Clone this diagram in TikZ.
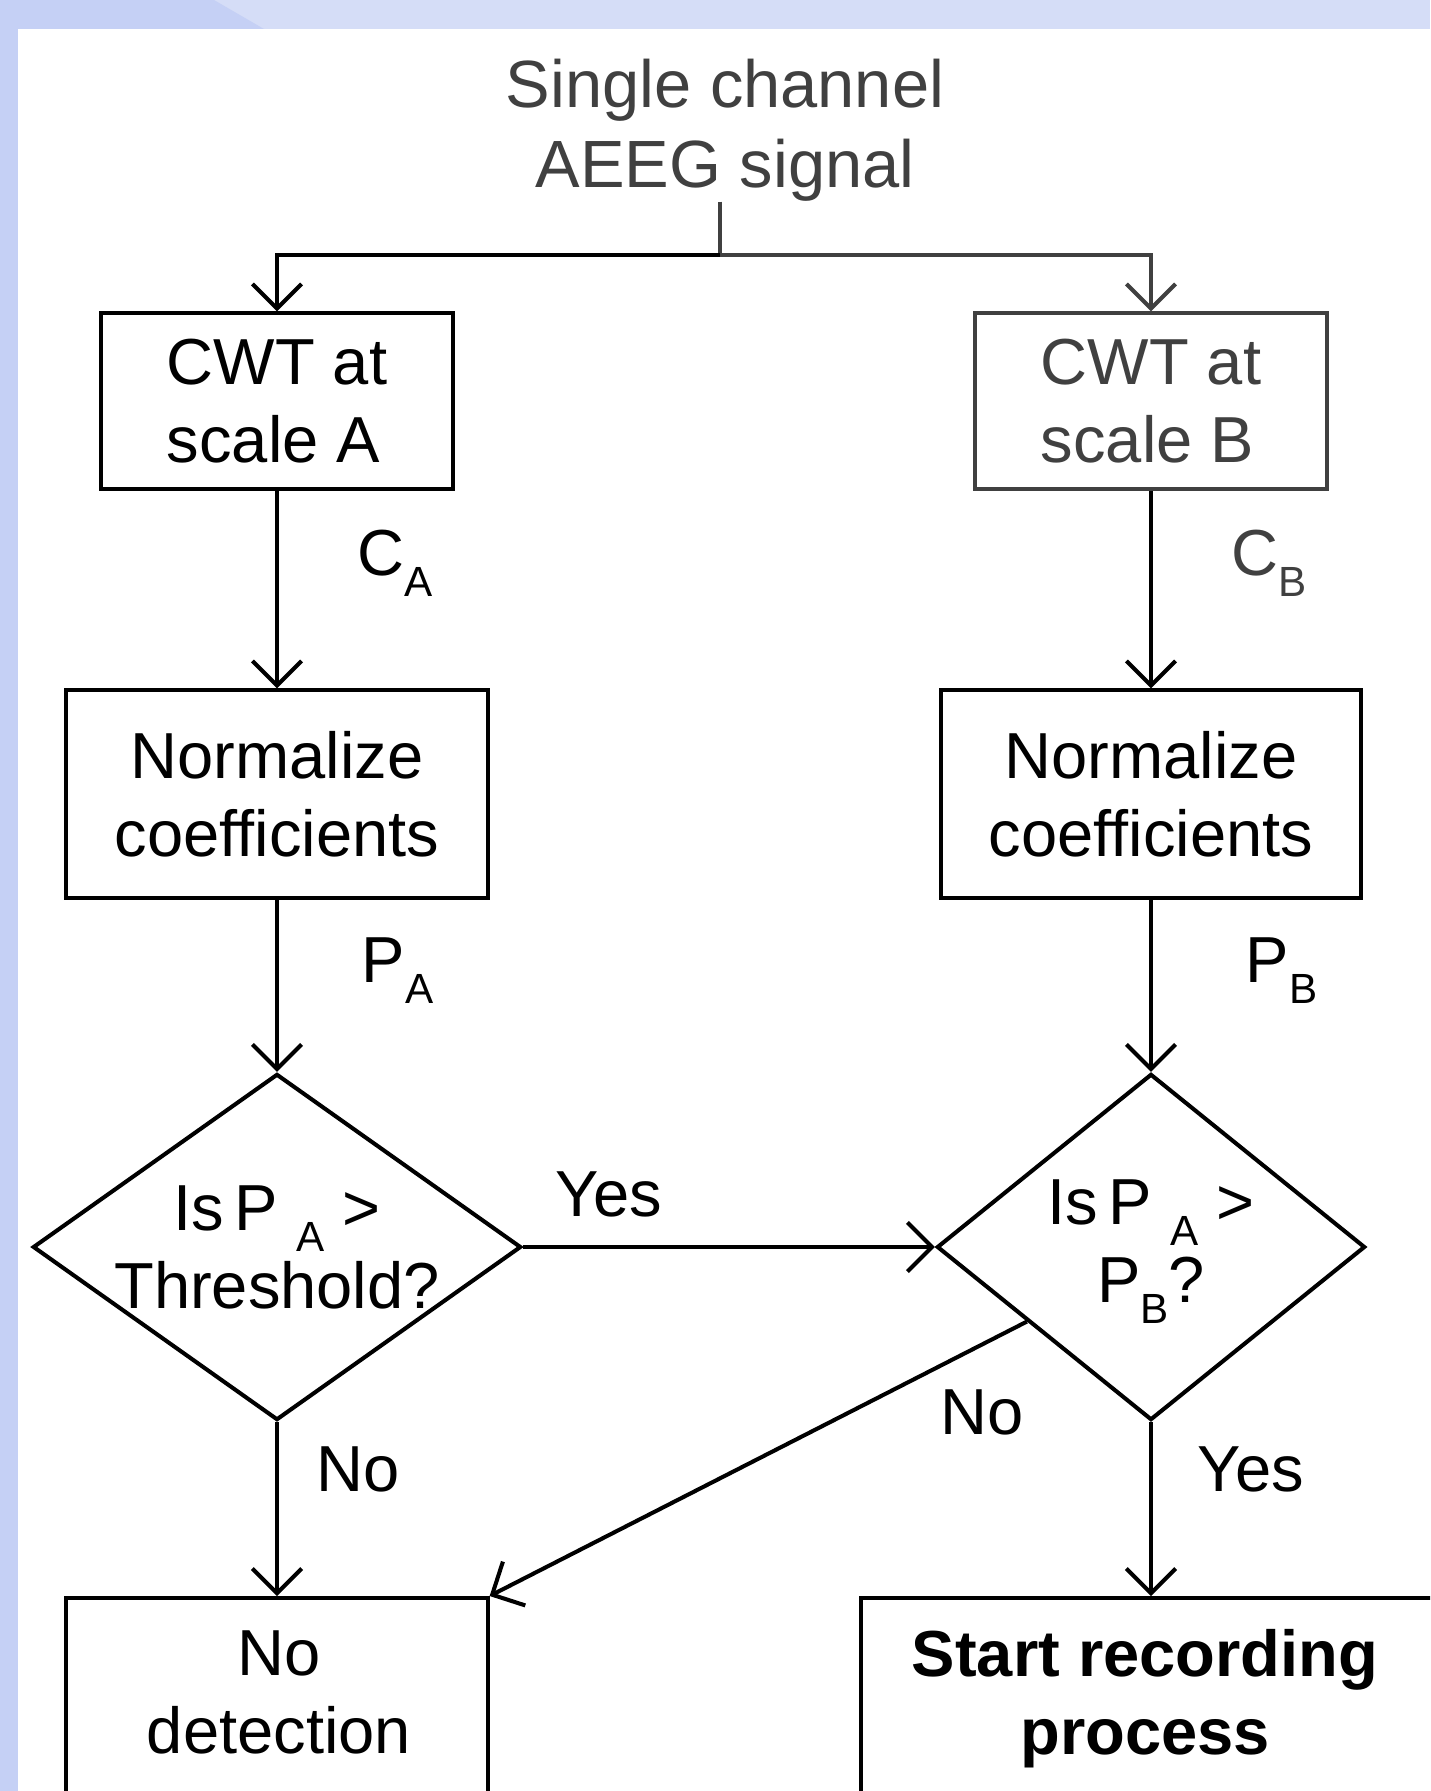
\documentclass[tikz,border=0pt]{standalone}
\usepackage{fontspec}
\setmainfont{Liberation Sans}
\usepackage{tikz}
\usetikzlibrary{arrows.meta}
\usetikzlibrary{shapes.geometric}
\usepackage{color}

\definecolor{slideblue}{RGB}{213,221,247}
\definecolor{slidebluedark}{RGB}{197,208,245}
\definecolor{inkgray}{HTML}{404040}

\newcommand{\subtxt}[1]{\raisebox{-6pt}{\fontsize{12}{12}\selectfont #1}}

\tikzset{
  box/.style={draw, line width=1.15pt, inner sep=0pt, align=center, font=\fontsize{18.5}{22.2}\selectfont},
  decision/.style={draw, diamond, line width=1.15pt, inner sep=0pt},
  flow/.style={line width=1.15pt, -{Straight Barb[length=7pt, width=14pt]}},
  txt/.style={align=center, inner sep=0pt, font=\fontsize{18.5}{22.2}\selectfont},
  lbl/.style={inner sep=0pt, font=\fontsize{18.5}{22.2}\selectfont},
  boldtxt/.style={font=\fontsize{18.5}{22.2}\selectfont\bfseries},
}

\begin{document}
\begin{tikzpicture}[x=0.01cm, y=-0.01cm]

\useasboundingbox (0,0) rectangle (1430,1791);
\clip (0,0) rectangle (1430,1791);

% slide background
\fill[slideblue] (0,0) rectangle (1430,1791);
\fill[slidebluedark] (0,0) -- (214,0) -- (264,29) -- (18,29) -- (18,1791) -- (0,1791) -- cycle;
\fill[white] (18,29) rectangle (1430,1791);

% input signal
\node[txt, font=\fontsize{19}{22.6}\selectfont, text=inkgray] (signal) at (725,130) {Single channel\\AEEG signal};
\coordinate (split) at (720,255);

% scale A column
\node[box, align=left, minimum width=3.52cm, minimum height=1.75cm] (cwtA) at (277,401) {CWT at\\scale A};
\node[box, minimum width=4.21cm, minimum height=2.07cm] (normA) at (277,794) {Normalize\\coefficients};
\node[decision, minimum width=4.88cm, minimum height=3.46cm] (decA) at (277,1247) {};
\node[txt] (qA) at (277,1247) {Is\,P \subtxt{A} >\\Threshold?};

% scale B column
\node[box, align=left, draw=inkgray, text=inkgray, minimum width=3.51cm, minimum height=1.75cm] (cwtB) at (1151,401) {CWT at\\scale B};
\node[box, minimum width=4.2cm, minimum height=2.07cm] (normB) at (1151,794) {Normalize\\coefficients};
\node[decision, minimum width=4.28cm, minimum height=3.46cm] (decB) at (1151,1247) {};
\node[txt] (qB) at (1151,1252) {Is\,P \subtxt{A} >\\P\subtxt{B}?};

% outcomes
\node[box, minimum width=4.21cm, minimum height=3cm, anchor=north] (nodet) at (277,1596) {};
\node[txt] (nodetText) at (279,1692) {No\\detection};
\node[box, minimum width=6.5cm, minimum height=3cm, anchor=north west] (start) at (859,1596) {};
\node[txt, boldtxt] (startText) at (1145,1699) {Start recording\\process};

% labels
\node[lbl, anchor=base west] (cA) at (357,575) {C\subtxt{A}};
\node[lbl, anchor=base west, text=inkgray] (cB) at (1231,575) {C\subtxt{B}};
\node[lbl, anchor=base west] (pA) at (361,982) {P\subtxt{A}};
\node[lbl, anchor=base west] (pB) at (1245,982) {P\subtxt{B}};
\node[lbl, anchor=base] (yesA) at (609,1216) {Yes};
\node[lbl, anchor=base] (noB) at (982,1434) {No};
\node[lbl, anchor=base] (noA) at (358,1491) {No};
\node[lbl, anchor=base] (yesB) at (1251,1491) {Yes};

% connectors
\draw[line width=1.15pt, inkgray] (signal.south -| split) -- (split);
\draw[flow] (split) -| (cwtA.north);
\draw[flow, inkgray] (split) -| (cwtB.north);
\draw[flow] (cwtA) -- (normA);
\draw[flow] (cwtB) -- (normB);
\draw[flow] (normA) -- (decA);
\draw[flow] (normB) -- (decB);
\draw[flow] (decA.east) -- (decB.west);
\draw[flow] (decA.south) -- (decA.south |- nodet.north);
\draw[flow] (decB.south) -- (decB.south |- start.north);
\draw[flow] (decB.211) -- (nodet.north east);

\end{tikzpicture}
\end{document}
